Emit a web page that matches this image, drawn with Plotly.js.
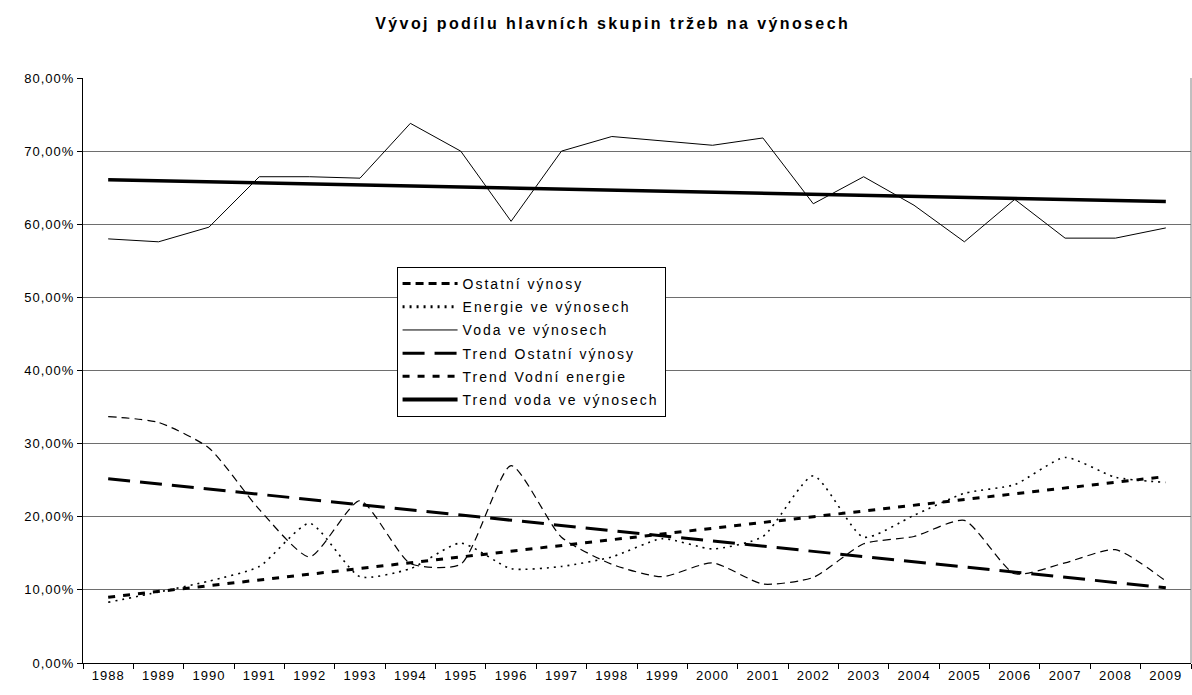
<!DOCTYPE html>
<html>
<head>
<meta charset="utf-8">
<script src="https://cdn.plot.ly/plotly-3.0.1.min.js"></script>
<style>
  html, body { margin: 0; padding: 0; background: #fff; }
  #chart { width: 1192px; height: 695px; }
  .gtitle { letter-spacing: 2.4px; }
  .xtick text, .ytick text { letter-spacing: 1px; }
  .legendtext { letter-spacing: 2px; }
</style>
</head>
<body>
<div id="chart"></div>
<script>
// roky (kategorie)
var years = ['1988','1989','1990','1991','1992','1993','1994','1995','1996','1997','1998',
             '1999','2000','2001','2002','2003','2004','2005','2006','2007','2008','2009'];

// podíly v %
var ostatniVynosy = [33.7, 32.9, 29.4, 21.0, 14.5, 22.2, 13.6, 13.5, 27.0, 17.2, 13.5,
                     11.8, 13.7, 10.8, 11.7, 16.3, 17.3, 19.5, 12.2, 13.7, 15.5, 11.2];
var energieVynosy = [8.3, 9.7, 11.2, 13.2, 19.1, 11.8, 12.9, 16.4, 12.9, 13.2, 14.5,
                     17.0, 15.6, 17.3, 25.6, 17.2, 20.2, 23.2, 24.4, 28.1, 25.4, 24.7];
var vodaVynosy    = [58.0, 57.6, 59.6, 66.5, 66.5, 66.3, 73.8, 70.0, 60.4, 70.0, 72.0,
                     71.4, 70.8, 71.8, 62.8, 66.5, 62.6, 57.6, 63.4, 58.1, 58.1, 59.5];

// trendy – krajní body
var trendYears   = ['1988', '2009'];
var trendOstatni = [25.2, 10.3];
var trendEnergie = [9.0, 25.5];
var trendVoda    = [66.1, 63.1];

var yTicks = [0, 10, 20, 30, 40, 50, 60, 70, 80];
var yTickText = yTicks.map(function (v) { return v.toFixed(2).replace('.', ',') + '%'; });

var data = [
  {x: years, y: ostatniVynosy, name: 'Ostatní výnosy', mode: 'lines', type: 'scatter',
   legendgroup: 'g1',
   line: {color: '#000', width: 1.2, dash: '8px,5px', shape: 'spline', smoothing: 0.6}},
  {x: years, y: energieVynosy, name: 'Energie ve výnosech', mode: 'lines', type: 'scatter',
   legendgroup: 'g2',
   line: {color: '#000', width: 1.6, dash: '2px,5px', shape: 'spline', smoothing: 0.6}},
  {x: years, y: vodaVynosy, name: 'Voda ve výnosech', mode: 'lines', type: 'scatter',
   legendgroup: 'g3',
   line: {color: '#000', width: 1}},
  {x: trendYears, y: trendOstatni, name: 'Trend Ostatní výnosy', mode: 'lines', type: 'scatter',
   legendgroup: 'g4',
   line: {color: '#000', width: 3, dash: '22px,10px'}},
  {x: trendYears, y: trendEnergie, name: 'Trend Vodní energie', mode: 'lines', type: 'scatter',
   legendgroup: 'g5',
   line: {color: '#000', width: 3, dash: '7px,8px'}},
  {x: trendYears, y: trendVoda, name: 'Trend voda ve výnosech', mode: 'lines', type: 'scatter',
   legendgroup: 'g6',
   line: {color: '#000', width: 3.5}}
];

var layout = {
  width: 1192,
  height: 695,
  margin: {l: 83, r: 1, t: 78, b: 32},
  paper_bgcolor: '#fff',
  plot_bgcolor: '#fff',
  font: {family: 'Liberation Sans, Arial, sans-serif', size: 13, color: '#000'},
  title: {
    text: '<b>Vývoj podílu hlavních skupin tržeb na výnosech</b>',
    font: {size: 16, color: '#000'},
    xref: 'container', yref: 'container',
    x: 0.514, y: 0.966, xanchor: 'center', yanchor: 'middle'
  },
  xaxis: {
    type: 'category',
    categoryorder: 'array',
    categoryarray: years,
    range: [-0.5, 21.5],
    showgrid: false,
    zeroline: false,
    showline: true,
    linecolor: '#000',
    linewidth: 1,
    ticks: 'outside',
    tickson: 'boundaries',
    ticklen: 5,
    tickcolor: '#000',
    tickfont: {size: 13}
  },
  yaxis: {
    range: [0, 80],
    tickmode: 'array',
    tickvals: yTicks,
    ticktext: yTickText,
    showgrid: true,
    gridcolor: '#6e6e6e',
    gridwidth: 1,
    zeroline: false,
    showline: true,
    linecolor: '#000',
    linewidth: 1,
    ticks: 'outside',
    ticklen: 5,
    tickcolor: '#000',
    tickfont: {size: 13}
  },
  shapes: [
    {type: 'line', xref: 'paper', yref: 'paper', x0: 1, x1: 1, y0: 0, y1: 1,
     line: {color: '#808080', width: 1}}
  ],
  showlegend: true,
  legend: {
    x: 0.283, y: 0.677, xanchor: 'left', yanchor: 'top',
    bgcolor: '#fff',
    bordercolor: '#000',
    borderwidth: 1,
    font: {size: 14},
    itemwidth: 55,
    tracegroupgap: 2
  }
};

Plotly.newPlot('chart', data, layout, {staticPlot: true, displayModeBar: false}).then(function (gd) {
  // v legendě jsou čáry prvních dvou řad tučnější
  var legendWidths = [3, 3, 1, 3, 3, 4];
  var lines = gd.querySelectorAll('.legend .traces .js-line');
  lines.forEach(function (p, i) {
    if (legendWidths[i]) p.style.strokeWidth = legendWidths[i] + 'px';
  });
});
</script>
</body>
</html>
